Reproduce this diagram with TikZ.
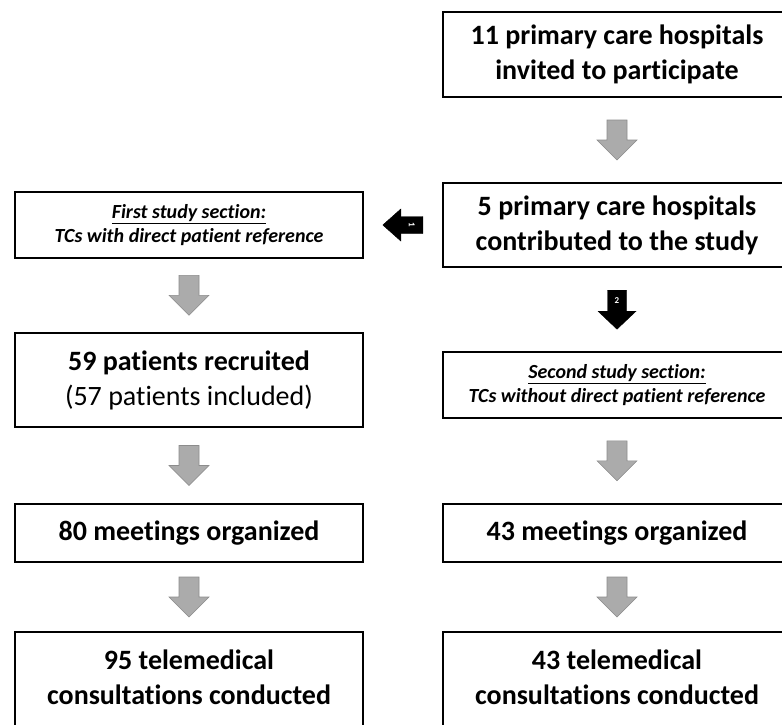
\documentclass[tikz,border=0pt]{standalone}
\usepackage{fontspec}
\setmainfont{Carlito}[Ligatures={NoCommon,NoRare,NoContextual}, RawFeature={-clig;-calt}]
\usetikzlibrary{calc}
% down-pointing block arrow: [style](centre)(length:head width:body width:head length)
\def\blockarrow[#1](#2)(#3:#4:#5:#6){\draw[#1] ($(#2)+({-#5/2},{-#3/2})$) -- ($(#2)+({-#5/2},{#3/2-#6})$) -- ($(#2)+({-#4/2},{#3/2-#6})$) -- ($(#2)+(0,{#3/2})$) -- ($(#2)+({#4/2},{#3/2-#6})$) -- ($(#2)+({#5/2},{#3/2-#6})$) -- ($(#2)+({#5/2},{-#3/2})$) -- cycle;}

\tikzset{
	bigbox/.style={draw, line width=2.6pt, minimum width=348pt, inner sep=4pt, align=center, font=\bfseries\fontsize{28}{35}\selectfont},
	notebox/.style={draw, line width=1.8pt, minimum width=348pt, minimum height=66pt, align=center, font=\bfseries\itshape\fontsize{20}{24}\selectfont},
	grayarrow/.style={fill=black!33, draw=black!45, line width=0.6pt, line join=miter},
	blackarrow/.style={fill=black, draw=black, line width=0.4pt, line join=miter},
	arrownum/.style={text=white, inner sep=0pt, font=\bfseries\fontsize{9}{9}\selectfont}
}

\begin{document}
\begin{tikzpicture}[x=1pt, y=-1pt]
			%%%%% FRAME %%%%%
			\fill[white] (0, 0) rectangle (782, 724);
			\useasboundingbox (0, 0) rectangle (782, 724);
			
			%%%%% RIGHT COLUMN %%%%%
			\node[bigbox, minimum height=85pt] (invited) at (617, 54.5) {11 primary care hospitals\\invited to participate};
			\node[bigbox, minimum height=84pt] (contrib) at (617, 225) {5 primary care hospitals\\contributed to the study};
			\node[notebox] (second) at (617, 385) {\underline{Second study section:}\\TCs without direct patient reference};
			\node[bigbox, minimum height=58pt] (meetR) at (617, 533) {43 meetings organized};
			\node[bigbox, minimum height=110pt, text depth=20pt] (consR) at (617, 687) {43 telemedical\\consultations conducted};
			
			%%%%% LEFT COLUMN %%%%%
			\node[notebox] (first) at (189, 225) {\underline{First study section:}\\TCs with direct patient reference};
			\node[bigbox, minimum height=94pt] (patients) at (189, 380) {59 patients recruited\\{\mdseries (57 patients included)}};
			\node[bigbox, minimum height=58pt] (meetL) at (189, 533) {80 meetings organized};
			\node[bigbox, minimum height=110pt, text depth=20pt] (consL) at (189, 687) {95 telemedical\\consultations conducted};
			
			%%%%% GRAY ARROWS %%%%%
			\coordinate (gA) at ($(invited.south)!0.5!(contrib.north)$);
			\coordinate (gB) at ($(first.south)!0.5!(patients.north)$);
			\coordinate (gC) at ($(patients.south)!0.5!(meetL.north)$);
			\coordinate (gD) at ($(second.south)!0.5!(meetR.north)$);
			\coordinate (gE) at ($(meetL.south)!0.5!(consL.north)$);
			\coordinate (gF) at ($(meetR.south)!0.5!(consR.north)$);
			\foreach \g in {gA,gB,gC,gD,gE,gF}
				\blockarrow[grayarrow](\g)(40:40:20:20);
			
			%%%%% BLACK ARROWS %%%%%
			\coordinate (one) at ($(first.east)!0.5!(contrib.west)$);
			\blockarrow[blackarrow, rotate around={-90:(one)}](one)(40:32:17:18);
			\node[arrownum, rotate=-90] (oneNum) at ($(one)+(9,0)$) {1};
			
			\coordinate (two) at ($(contrib.south)!0.5!(second.north)$);
			\blockarrow[blackarrow](two)(39:38:19:18);
			\node[arrownum] (twoNum) at ($(two)+(0,-9)$) {2};
			
\end{tikzpicture}
\end{document}
